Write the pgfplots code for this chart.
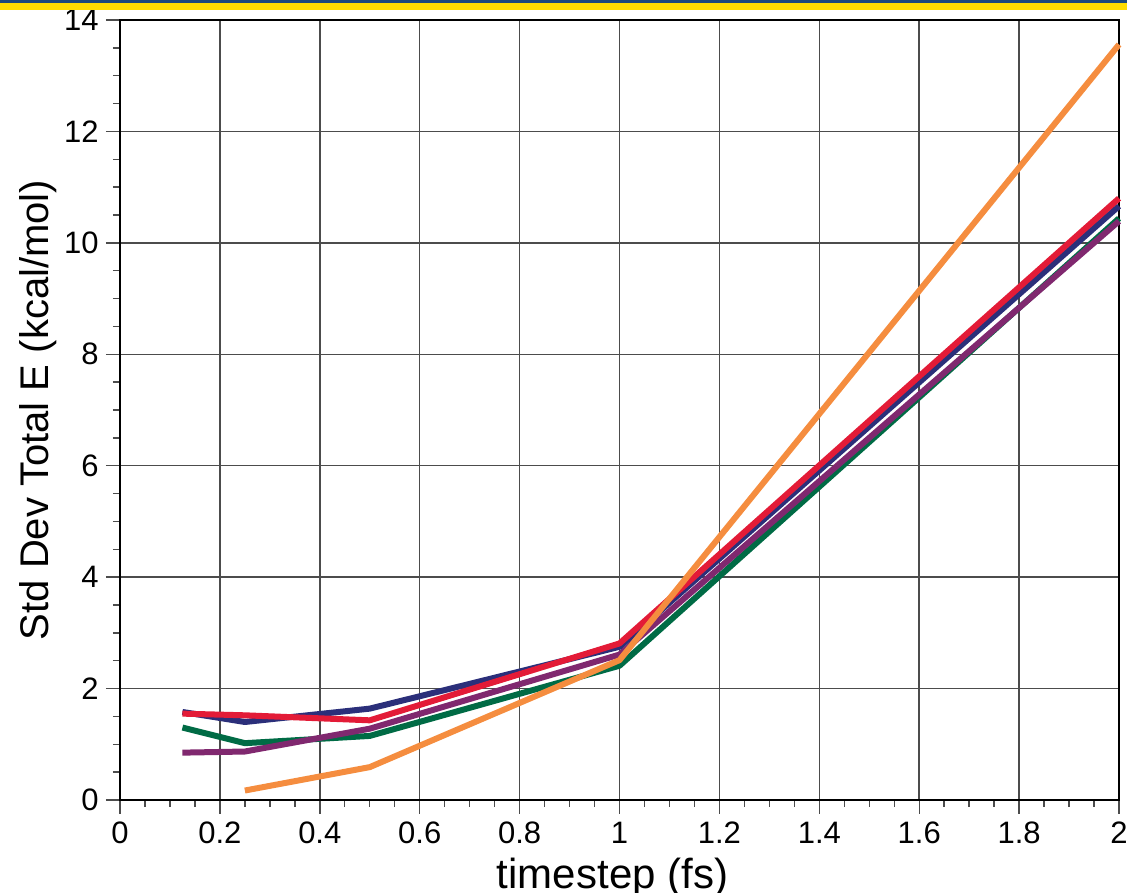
\documentclass[border=0pt]{standalone}
\usepackage{fontspec}
\setmainfont{Liberation Sans}
\usepackage{pgfplots}
\pgfplotsset{compat=1.18}
\definecolor{cNavy}{HTML}{2B2F7A}
\definecolor{cRed}{HTML}{E31B37}
\definecolor{cGreen}{HTML}{006B45}
\definecolor{cPurple}{HTML}{80286F}
\definecolor{cOrange}{HTML}{F58D3F}
\definecolor{stripeBlue}{HTML}{1C4A7C}
\definecolor{stripeYellow}{HTML}{FFDD00}
\begin{document}
\begin{tikzpicture}
\begin{axis}[
  at={(0,0)}, anchor=south west,
  scale only axis, width=499.5pt, height=390pt,
  xmin=0, xmax=2, ymin=0, ymax=14,
  xtick={0,0.2,0.4,0.6,0.8,1,1.2,1.4,1.6,1.8,2},
  ytick={0,2,4,6,8,10,12,14},
  minor x tick num=3, minor y tick num=3,
  xtick pos=bottom, ytick pos=left,
  tick align=outside, major tick length=7pt, minor tick length=3.5pt,
  tick style={black!70, line width=0.7pt},
  grid=major, grid style={black!70, line width=0.75pt},
  axis line style={black, line width=1.1pt},
  /pgf/number format/assume math mode=true,
  ticklabel style={font=\fontsize{15.5}{18}\selectfont, inner sep=0pt},
  xticklabel style={anchor=base, yshift=-14.5pt},
  yticklabel style={anchor=east, xshift=-3.5pt},
  xlabel={timestep (fs)},
  ylabel={Std Dev Total E (kcal/mol)},
  xlabel style={at={(axis description cs:0.493,-0.114)}, anchor=base,
    font=\fontsize{21}{24}\selectfont, inner sep=0pt},
  ylabel style={at={(axis description cs:-0.072,0.5)}, anchor=base,
    font=\fontsize{20}{24}\selectfont, inner sep=0pt},
  every axis plot/.append style={line width=3pt, line join=round},
  clip=false,
]
  \addplot[cGreen] coordinates {(0.125,1.30)(0.25,1.02)(0.5,1.15)(1,2.41)(2,10.44)};
  \addplot[cPurple] coordinates {(0.125,0.85)(0.25,0.87)(0.5,1.28)(1,2.61)(2,10.39)};
  \addplot[cNavy] coordinates {(0.125,1.58)(0.25,1.40)(0.5,1.64)(1,2.75)(2,10.66)};
  \addplot[cRed] coordinates {(0.125,1.55)(0.25,1.52)(0.5,1.43)(1,2.81)(2,10.80)};
  \addplot[cOrange] coordinates {(0.25,0.17)(0.5,0.59)(1,2.51)(2,13.56)};
\end{axis}
% slide stripe along the top edge
\fill[stripeYellow] (-60pt,395pt) rectangle (503.5pt,398.5pt);
\fill[stripeBlue] (-60pt,398.5pt) rectangle (503.5pt,400pt);
\pgfresetboundingbox
\path (-60pt,-46pt) rectangle (511.5pt,400pt);
\end{tikzpicture}
\end{document}
